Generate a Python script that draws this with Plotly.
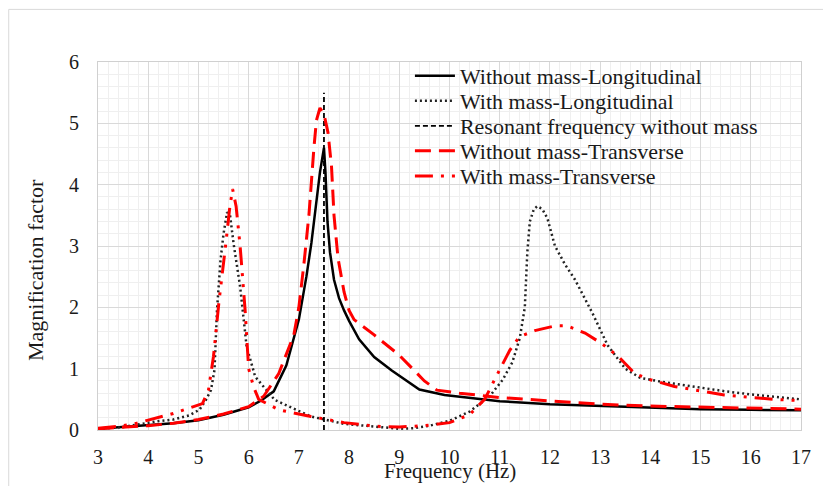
import plotly.graph_objects as go

# ---- data ----
wo_long_x = [3, 3.5, 4, 4.5, 5, 5.5, 6, 6.25, 6.5, 6.75, 7.0, 7.15, 7.25, 7.35, 7.42, 7.5,
             7.53, 7.57, 7.62, 7.7, 7.8, 7.9, 8.0, 8.2, 8.5, 8.85, 9.2, 9.4, 9.9, 10.5, 11,
             12, 13, 14, 15, 16, 17]
wo_long_y = [0.02, 0.05, 0.08, 0.11, 0.16, 0.25, 0.37, 0.48, 0.63, 1.05, 1.8, 2.5, 3.05, 3.7, 4.2, 4.6,
             4.2, 3.4, 2.9, 2.45, 2.15, 1.95, 1.78, 1.48, 1.19, 0.97, 0.77, 0.66, 0.57, 0.52, 0.47,
             0.42, 0.39, 0.36, 0.34, 0.33, 0.32]

w_long_x = [3, 3.5, 4.17, 4.5, 4.82, 5.02, 5.15, 5.25, 5.32, 5.37, 5.44, 5.5, 5.57, 5.63, 5.7,
            5.83, 5.96, 6.13, 6.52, 7.24, 7.9, 8.5, 9.0, 9.3, 9.6, 10.0, 10.4, 10.8, 11.06,
            11.25, 11.4, 11.5, 11.55, 11.6, 11.68, 11.75, 11.85, 11.95, 12.1, 12.3, 12.5,
            12.85, 13.15, 13.5, 13.8, 14.2, 14.9, 15.5, 16.0, 16.5, 17]
w_long_y = [0.02, 0.05, 0.14, 0.17, 0.24, 0.33, 0.49, 0.65, 0.98, 1.96, 2.77, 3.2, 3.55, 3.5, 3.04,
            2.34, 1.36, 0.87, 0.49, 0.22, 0.1, 0.06, 0.02, 0.03, 0.07, 0.15, 0.3, 0.55, 0.82,
            1.1, 1.5, 2.0, 2.9, 3.4, 3.6, 3.65, 3.6, 3.45, 3.0, 2.7, 2.45,
            1.9, 1.38, 1.0, 0.85, 0.79, 0.7, 0.63, 0.58, 0.54, 0.5]

res_x = [7.5, 7.5]
res_y = [0, 5.5]

wo_trans_x = [3, 3.5, 4, 4.5, 5, 5.5, 6, 6.3, 6.6, 6.9, 7.0, 7.1, 7.2, 7.3, 7.35, 7.42, 7.5,
              7.58, 7.65, 7.7, 7.78, 7.9, 8.0, 8.1, 8.5, 9.0, 9.5, 9.75, 10.2, 11, 12, 13, 14,
              15, 16, 17]
wo_trans_y = [0.02, 0.04, 0.07, 0.11, 0.17, 0.26, 0.38, 0.55, 0.92, 1.55, 2.0, 2.7, 3.5, 4.6, 5.05,
              5.25, 5.15, 4.85, 4.3, 3.5, 2.8, 2.25, 1.95, 1.8, 1.55, 1.22, 0.8, 0.65, 0.6, 0.53,
              0.47, 0.42, 0.39, 0.37, 0.35, 0.34]

w_trans_x = [3, 3.5, 3.77, 4.3, 4.5, 5.08, 5.2, 5.3, 5.41, 5.54, 5.62, 5.68, 5.75, 5.83, 5.93,
             6.0, 6.1, 6.2, 6.6, 7.24, 7.9, 8.56, 9.0, 9.5, 10.0, 10.4, 10.7, 10.96, 11.2, 11.39,
             11.7, 12.11, 12.34, 12.7, 13.03, 13.36, 13.69, 14.0, 14.48, 15.47, 16.45, 17]
w_trans_y = [0.03, 0.07, 0.11, 0.22, 0.27, 0.43, 0.65, 1.2, 2.1, 3.0, 3.6, 3.93, 3.65, 3.0, 1.95,
             1.0, 0.7, 0.5, 0.33, 0.22, 0.12, 0.06, 0.05, 0.07, 0.12, 0.25, 0.5, 0.92, 1.3, 1.52,
             1.62, 1.70, 1.70, 1.58, 1.41, 1.20, 0.92, 0.82, 0.71, 0.57, 0.50, 0.48]

names = ["Without mass-Longitudinal", "With mass-Longitudinal",
         "Resonant frequency without mass", "Without mass-Transverse",
         "With mass-Transverse"]

x_ticks = list(range(3, 18))
y_ticks = list(range(0, 7))

FONT = "Liberation Serif, Times New Roman, serif"
TXT = "#1a1a1a"

series = [
    (wo_long_x, wo_long_y, dict(color="black", width=2.5)),
    (w_long_x, w_long_y, dict(color="#222222", width=2.5, dash="2px,3px")),
    (res_x, res_y, dict(color="black", width=1.8, dash="5px,3px")),
    (wo_trans_x, wo_trans_y, dict(color="#ff0000", width=3, dash="16px,8px")),
    (w_trans_x, w_trans_y, dict(color="#ff0000", width=3, dash="18px,8px,3px,8px,3px,8px")),
]

fig = go.Figure()
legend_keys = ["legend", "legend2", "legend3", "legend4", "legend5"]
for (xs, ys, ln), nm, lk in zip(series, names, legend_keys):
    fig.add_trace(go.Scatter(x=xs, y=ys, mode="lines", name=nm, line=ln, legend=lk))

# one legend box per row so the row spacing matches the reference
row_y = [0.962, 0.894, 0.826, 0.758, 0.690]
legend_layout = {}
for lk, yy in zip(legend_keys, row_y):
    legend_layout[lk] = dict(x=0.4437, y=yy, xanchor="left", yanchor="middle",
                             bgcolor="rgba(0,0,0,0)", borderwidth=0, itemwidth=40,
                             font=dict(family=FONT, size=22, color=TXT))

fig.update_layout(
    width=823, height=486,
    margin=dict(l=98, r=15, t=62, b=56),
    paper_bgcolor="white", plot_bgcolor="white",
    font=dict(family=FONT, size=20, color=TXT),
    showlegend=True,
    **legend_layout,
    xaxis=dict(range=[3, 17], tickvals=x_ticks, ticktext=[str(v) for v in x_ticks],
               showgrid=True, gridcolor="#d9d9d9", gridwidth=1,
               minor=dict(dtick=0.2, showgrid=True, gridcolor="#efefef", gridwidth=1),
               showline=True, linecolor="#d0d0d0", linewidth=1, mirror=True,
               zeroline=False, ticks="", ticklabelstandoff=9,
               tickfont=dict(family=FONT, size=20, color=TXT)),
    yaxis=dict(range=[0, 6], tickvals=y_ticks, ticktext=[str(v) for v in y_ticks],
               showgrid=True, gridcolor="#d9d9d9", gridwidth=1,
               minor=dict(dtick=0.2, showgrid=True, gridcolor="#efefef", gridwidth=1),
               showline=True, linecolor="#d0d0d0", linewidth=1, mirror=True,
               zeroline=False, ticks="", ticklabelstandoff=14,
               tickfont=dict(family=FONT, size=20, color=TXT)),
    annotations=[
        dict(text="Frequency (Hz)", xref="paper", yref="paper", x=0.5, y=-0.112,
             xanchor="center", yanchor="middle", showarrow=False,
             font=dict(family=FONT, size=21, color=TXT)),
        dict(text="Magnification factor", xref="paper", yref="paper", x=-0.088, y=0.435,
             xanchor="center", yanchor="middle", showarrow=False, textangle=-90,
             font=dict(family=FONT, size=22, color=TXT)),
    ],
    shapes=[
        dict(type="rect", xref="paper", yref="paper", x0=-0.127, x1=1.2, y0=-0.3, y1=1.143,
             line=dict(color="#d9d9d9", width=1), fillcolor="rgba(0,0,0,0)", layer="below"),
    ],
)

fig.write_html("out.html")
